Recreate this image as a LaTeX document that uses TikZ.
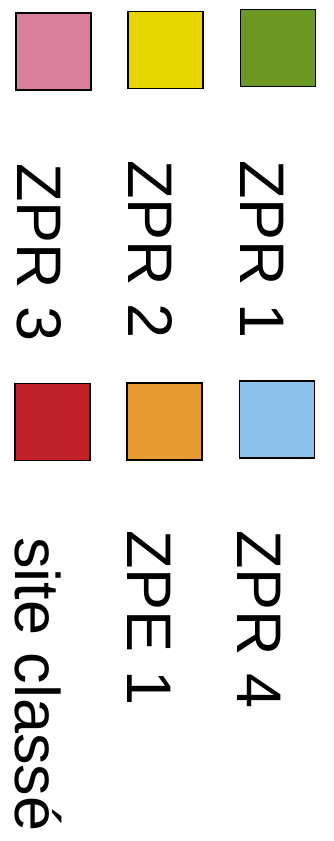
\documentclass[tikz,border=0pt]{standalone}
\usepackage{fontspec}
\setmainfont{Liberation Sans}
\usepackage{tikz}
\usetikzlibrary{positioning}

\definecolor{zprone}{RGB}{106,152,34}
\definecolor{zprtwo}{RGB}{232,214,0}
\definecolor{zprthree}{RGB}{218,128,154}
\definecolor{zprfour}{RGB}{140,194,236}
\definecolor{zpeone}{RGB}{230,154,50}
\definecolor{siteclasse}{RGB}{192,32,40}

\begin{document}
\begin{tikzpicture}[
        x=1pt, y=1pt,
        swatch/.style={draw, line width=1.3pt, minimum width=75pt,
                       minimum height=77pt, inner sep=0pt},
        zonelabel/.style={rotate=-90, anchor=base west, inner sep=0pt,
                          font=\fontsize{63}{63}\selectfont}
    ]
        \useasboundingbox (0,0) rectangle (334,-841);

        % upper row of swatches
        \node[swatch, fill=zprthree] (zpr3-box) at (53.5,-51.5) {};
        \node[swatch, fill=zprtwo] (zpr2-box) at (165.5,-50) {};
        \node[swatch, fill=zprone] (zpr1-box) at (278,-48) {};

        \node[zonelabel] (zpr3) at (17,-163) {ZPR 3};
        \node[zonelabel] (zpr2) at (128,-160) {ZPR 2};
        \node[zonelabel] (zpr1) at (240,-160) {ZPR 1};

        % lower row of swatches
        \node[swatch, fill=siteclasse] (site-box) at (52.5,-422) {};
        \node[swatch, fill=zpeone] (zpe1-box) at (164.5,-421.5) {};
        \node[swatch, fill=zprfour] (zpr4-box) at (277,-419.5) {};

        \node[zonelabel] (site) at (15,-537) {site classé};
        \node[zonelabel] (zpe1) at (127,-530) {ZPE 1};
        \node[zonelabel] (zpr4) at (237,-530) {ZPR 4};
    \end{tikzpicture}
\end{document}
